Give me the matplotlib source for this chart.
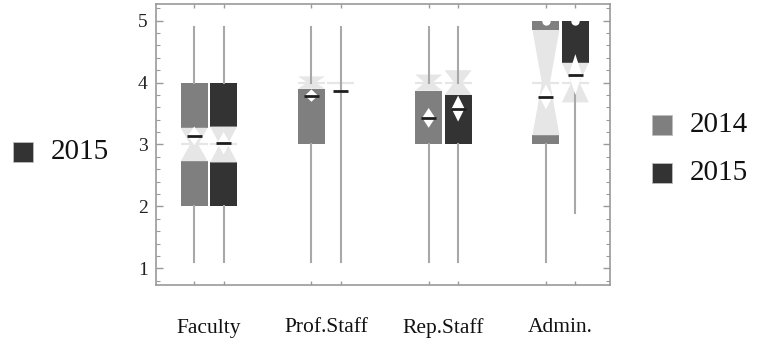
import matplotlib
matplotlib.use("Agg")
import matplotlib.pyplot as plt
from matplotlib.patches import Polygon, Rectangle
from matplotlib.transforms import blended_transform_factory
from matplotlib.ticker import MultipleLocator

plt.rcParams["font.family"] = ["Liberation Serif", "DejaVu Serif"]

categories = ["Faculty", "Prof.Staff", "Rep.Staff", "Admin."]
years = ["2014", "2015"]

# 2014 summary statistics per group
low_2014 = [1.1, 1.1, 1.1, 1.1]
q1_2014 = [2.0, 3.0, 3.0, 3.0]
median_2014 = [3.0, 4.0, 4.0, 4.0]
q3_2014 = [4.0, 4.0, 4.0, 5.0]
high_2014 = [4.9, 4.9, 4.9, 5.0]
notch_2014 = [0.27, 0.10, 0.13, 0.85]
mean_2014 = [3.14, 3.79, 3.43, 3.77]
mean_ci_2014 = [0.15, 0.10, 0.16, 0.20]
top_dot_2014 = [None, None, None, 5.0]

# 2015 summary statistics per group
low_2015 = [1.1, 1.1, 1.1, 1.9]
q1_2015 = [2.0, 4.0, 3.0, 4.0]
median_2015 = [3.0, 4.0, 4.0, 4.0]
q3_2015 = [4.0, 4.0, 4.0, 5.0]
high_2015 = [4.9, 4.9, 4.9, 5.0]
notch_2015 = [0.29, 0.0, 0.20, 0.32]
mean_2015 = [3.02, 3.87, 3.58, 4.13]
mean_ci_2015 = [0.18, 0.0, 0.21, 0.33]
top_dot_2015 = [None, None, None, 5.0]

colors = {"2014": "#7f7f7f", "2015": "#333333"}
notch_color = "#e6e6e6"
whisker_color = "#a8a8a8"
frame_color = "#9a9a9a"

fig = plt.figure(figsize=(7.67, 3.47), dpi=100)
ax = fig.add_axes([0.2034, 0.1787, 0.5919, 0.8098])

box_w = 0.23
offset = 0.1255


def draw_box(x, lo, q1, med, q3, hi, n, mean, ci, color, dot):
    half = box_w / 2
    # box body outside the notch band
    if med - n > q1:
        top = min(q3, med - n)
        ax.add_patch(Rectangle((x - half, q1), box_w, top - q1,
                               facecolor=color, edgecolor="none", zorder=2))
    if med + n < q3:
        bot = max(q1, med + n)
        ax.add_patch(Rectangle((x - half, bot), box_w, q3 - bot,
                               facecolor=color, edgecolor="none", zorder=2))
    # notch band as an hourglass
    if n > 0:
        waist = 0.15 * box_w
        ax.add_patch(Polygon([(x - half, med + n), (x + half, med + n),
                              (x + waist, med), (x + half, med - n),
                              (x - half, med - n), (x - waist, med)],
                             closed=True, facecolor=notch_color,
                             edgecolor="none", zorder=2))
    ax.plot([x - half, x + half], [med, med], color=notch_color, lw=1.6,
            zorder=2.5, solid_capstyle="butt")
    # whiskers
    if lo < q1:
        ax.plot([x, x], [lo, q1], color=whisker_color, lw=1.5, zorder=3)
    if hi > q3:
        ax.plot([x, x], [q3, hi], color=whisker_color, lw=1.5, zorder=3)
    # mean diamond and mean line
    if ci > 0:
        dw = 0.24 * box_w
        ax.add_patch(Polygon([(x, mean + ci), (x + dw, mean),
                              (x, mean - ci), (x - dw, mean)],
                             closed=True, facecolor="white",
                             edgecolor="none", zorder=4))
    ax.plot([x - 0.28 * box_w, x + 0.28 * box_w], [mean, mean],
            color="#1e1e1e", lw=2.0, zorder=5, solid_capstyle="butt")
    if dot is not None:
        ax.plot([x], [dot], marker="o", ms=6, color="white", mec="none",
                zorder=6)


stats = {
    "2014": (low_2014, q1_2014, median_2014, q3_2014, high_2014,
             notch_2014, mean_2014, mean_ci_2014, top_dot_2014),
    "2015": (low_2015, q1_2015, median_2015, q3_2015, high_2015,
             notch_2015, mean_2015, mean_ci_2015, top_dot_2015),
}

box_positions = []
for i, cat in enumerate(categories):
    for j, yr in enumerate(years):
        x = i + (-offset if j == 0 else offset)
        box_positions.append(x)
        s = stats[yr]
        draw_box(x, s[0][i], s[1][i], s[2][i], s[3][i], s[4][i],
                 s[5][i], s[6][i], s[7][i], colors[yr], s[8][i])

ax.set_xlim(-0.451, 3.421)
ax.set_ylim(0.73, 5.27)

for sp in ax.spines.values():
    sp.set_color(frame_color)
    sp.set_linewidth(1.2)

ax.set_yticks([1, 2, 3, 4, 5])
ax.yaxis.set_minor_locator(MultipleLocator(0.2))
ax.tick_params(axis="y", which="both", direction="in", left=True, right=True,
               color=frame_color, labelsize=14, pad=6, labelcolor="#222222")
ax.tick_params(axis="y", which="major", length=5, width=1)
ax.tick_params(axis="y", which="minor", length=3, width=0.8)

ax.set_xticks(box_positions)
ax.set_xticklabels([])
ax.tick_params(axis="x", which="major", direction="in", top=True, bottom=True,
               length=3, width=1, color=frame_color)

trans = blended_transform_factory(ax.transData, fig.transFigure)
for i, cat in enumerate(categories):
    ax.text(i, 1 - 328 / 347, cat, transform=trans, ha="center", va="center",
            fontsize=15.5, color="#111111")


def legend_entry(x_px, y_px, label, color):
    W, H = 767, 347
    size = 20
    fig.patches.append(Rectangle((x_px / W, 1 - (y_px + size / 2) / H),
                                 size / W, size / H, facecolor=color,
                                 edgecolor="#bdbdbd", lw=0.6,
                                 transform=fig.transFigure))
    fig.text((x_px + 38) / W, 1 - y_px / H, label, ha="left", va="center",
             fontsize=21, color="#111111")


legend_entry(13, 152, "2015", colors["2015"])
legend_entry(652, 125, "2014", colors["2014"])
legend_entry(652, 173, "2015", colors["2015"])

fig.savefig("out.png", dpi=100, facecolor="white")
